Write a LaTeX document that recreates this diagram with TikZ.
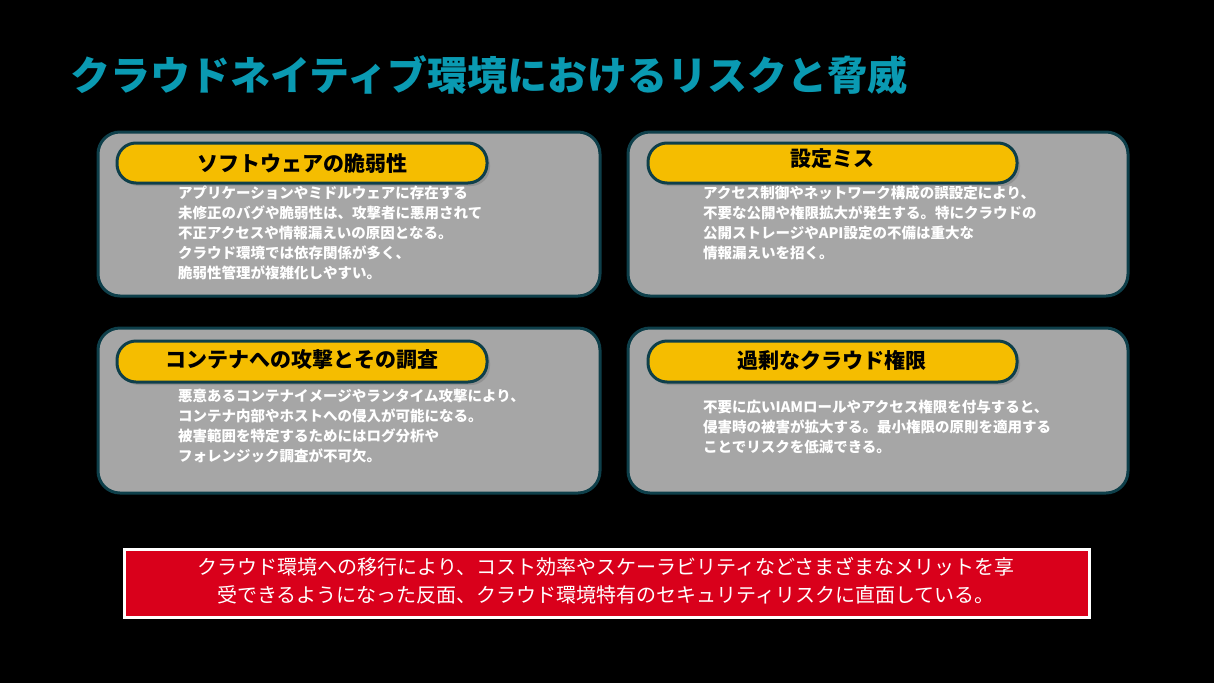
\documentclass[tikz,border=0pt]{standalone}
\usepackage{fontspec}
\setmainfont{Noto Sans CJK JP}
\usetikzlibrary{shadows}
\definecolor{bordc}{HTML}{0E3F4A}
\definecolor{boxg}{HTML}{A6A6A6}
\definecolor{pillc}{HTML}{F5BD00}
\definecolor{titc}{HTML}{0A9AB2}
\definecolor{redc}{HTML}{D9001B}
\tikzset{
 card/.style={draw=bordc,line width=3pt,fill=boxg,rounded corners=22pt},
 pill/.style={draw=bordc,line width=3pt,fill=pillc,rounded corners=19pt,drop shadow={shadow xshift=3pt,shadow yshift=-3pt,opacity=0.5}},
 head/.style={font=\fontsize{21}{24}\selectfont\bfseries,text=black},
 body/.style={font=\fontsize{14.5}{20}\selectfont\bfseries,text=white,align=left,anchor=north west,inner sep=0pt}
}
\begin{document}
\begin{tikzpicture}[x=1pt,y=-1pt]
\fill[black] (0,0) rectangle (1214,683);
\useasboundingbox (0,0) rectangle (1214,683);
\node[anchor=west,text=titc,font=\fontsize{40}{44}\selectfont\bfseries,inner sep=0pt] (title) at (70,75) {クラウドネイティブ環境におけるリスクと脅威};
% cards
\draw[card] (98,132) rectangle (600,296);
\draw[card] (628,132) rectangle (1128,296);
\draw[card] (98,328) rectangle (600,493);
\draw[card] (628,328) rectangle (1128,493);
\draw[pill] (117,143) rectangle (487,183);
\draw[pill] (648,143) rectangle (1017,183);
\draw[pill] (117,341) rectangle (487,382);
\draw[pill] (648,341) rectangle (1017,382);
\node[head] (h1) at (302,163) {ソフトウェアの脆弱性};
\node[head] (h2) at (832,159) {設定ミス};
\node[head] (h3) at (302,360) {コンテナへの攻撃とその調査};
\node[head] (h4) at (832,360) {過剰なクラウド権限};
\node[body] (b1) at (178,186) {アプリケーションやミドルウェアに存在する\\未修正のバグや脆弱性は、攻撃者に悪用されて\\不正アクセスや情報漏えいの原因となる。\\クラウド環境では依存関係が多く、\\脆弱性管理が複雑化しやすい。};
\node[body] (b2) at (703,186) {アクセス制御やネットワーク構成の誤設定により、\\不要な公開や権限拡大が発生する。特にクラウドの\\公開ストレージやAPI設定の不備は重大な\\情報漏えいを招く。};
\node[body] (b3) at (178,389) {悪意あるコンテナイメージやランタイム攻撃により、\\コンテナ内部やホストへの侵入が可能になる。\\被害範囲を特定するためにはログ分析や\\フォレンジック調査が不可欠。};
\node[body] (b4) at (703,400) {不要に広いIAMロールやアクセス権限を付与すると、\\侵害時の被害が拡大する。最小権限の原則を適用する\\ことでリスクを低減できる。};
\draw[draw=white,line width=3pt,fill=redc] (124,549) rectangle (1089,617);
\node[text=white,font=\fontsize{20}{28}\selectfont,align=center] (note) at (606,581) {クラウド環境への移行により、コスト効率やスケーラビリティなどさまざまなメリットを享\\受できるようになった反面、クラウド環境特有のセキュリティリスクに直面している。};
\end{tikzpicture}
\end{document}
